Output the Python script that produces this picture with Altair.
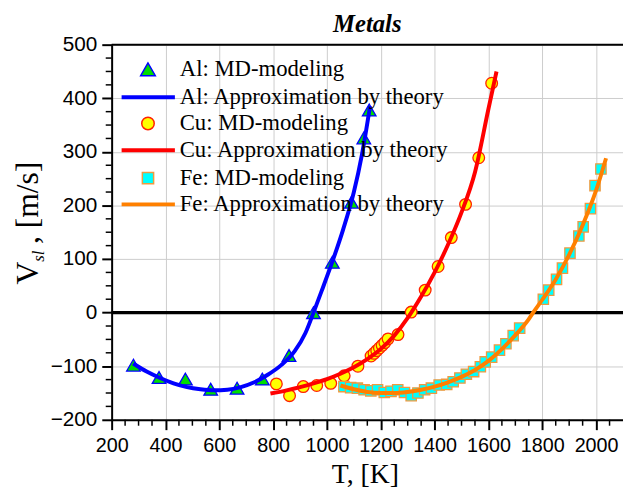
import altair as alt
import pandas as pd

# ---------------- data ----------------
al_T = [281, 376, 474, 568, 666, 760, 859, 950, 1020, 1091, 1137, 1157]
al_V = [-98, -121, -124, -143, -141, -124, -80, 0, 94, 206, 326, 378]

al_fit_T = [280, 330, 380, 430, 480, 530, 580, 630, 680, 730, 780, 830, 880, 920, 950, 980, 1020, 1060, 1100, 1130, 1160]
al_fit_V = [-95, -110, -122, -132, -139, -143, -145, -144, -139, -130, -116, -98, -72, -38, 0, 40, 95, 155, 225, 295, 385]

cu_T = [812, 861, 912, 962, 1014, 1064, 1115, 1164, 1175, 1185, 1195, 1205, 1215, 1227, 1264, 1313, 1365, 1413, 1462, 1515, 1564, 1612]
cu_V = [-133, -155, -138, -136, -132, -118, -100, -81, -76, -71, -66, -61, -56, -49, -41, 1, 42, 86, 140, 202, 289, 428]

cu_fit_T = [790, 850, 900, 950, 1000, 1050, 1100, 1150, 1200, 1250, 1300, 1350, 1400, 1450, 1500, 1550, 1600, 1615, 1630]
cu_fit_V = [-151, -145, -139, -132, -124, -114, -102, -87, -68, -43, -10, 30, 75, 127, 187, 262, 380, 415, 450]

fe_T = [1063, 1088, 1113, 1138, 1163, 1188, 1213, 1238, 1263, 1288, 1313, 1338, 1363, 1388, 1417, 1445,
        1469, 1494, 1518, 1545, 1570, 1588, 1612, 1641, 1665, 1692, 1716, 1804, 1824, 1853, 1875, 1903,
        1936, 1952, 1979, 1996, 2018]
fe_V = [-138, -140, -141, -144, -146, -144, -149, -147, -144, -149, -155, -150, -144, -141, -135, -134,
        -129, -122, -115, -110, -101, -92, -83, -70, -58, -43, -29, 25, 42, 62, 83, 111,
        143, 160, 194, 237, 268]

fe_fit_T = [1050, 1100, 1150, 1200, 1250, 1300, 1350, 1400, 1450, 1500, 1550, 1600, 1650, 1700, 1750, 1766, 1800, 1850, 1900, 1950, 2000, 2037]
fe_fit_V = [-136, -143, -148, -150, -150, -148, -144, -138, -130, -120, -107, -90, -68, -42, -12, 0, 24, 62, 108, 163, 228, 288]

x_ticks = list(range(200, 2001, 200))
y_ticks = list(range(-200, 501, 100))
x_minor = [t for t in range(250, 2100, 50) if t % 200 != 0]
y_minor = [t for t in range(-175, 500, 25) if t % 100 != 0]

legend_labels = ["Al: MD-modeling", "Al: Approximation by theory",
                 "Cu: MD-modeling", "Cu: Approximation by theory",
                 "Fe: MD-modeling", "Fe: Approximation by theory"]
legend_rows_v = [454, 402, 353, 303, 251, 202]

# ---------------- styling ----------------
W, H = 518, 380
SERIF = "Liberation Serif"
SANS = "Liberation Sans"

xs = alt.Scale(domain=[200, 2100], nice=False, zero=False)
ys = alt.Scale(domain=[-200, 500], nice=False, zero=False)

xaxis = alt.Axis(values=x_ticks, title=None, format="d", grid=True, gridColor="#cccccc", gridWidth=1,
                 tickSize=10, tickWidth=2, tickColor="black", domainColor="black", domainWidth=2,
                 labelFont=SANS, labelFontSize=20, labelColor="black", labelPadding=6,
                 labelOverlap=False, labelFlush=False)
yaxis = alt.Axis(values=y_ticks, title=None, format="d", grid=True, gridColor="#cccccc", gridWidth=1,
                 tickSize=10, tickWidth=2, tickColor="black", domainColor="black", domainWidth=2,
                 labelFont=SANS, labelFontSize=21, labelColor="black", labelPadding=5,
                 labelOverlap=False, labelFlush=False)


def X(f="k"):
    return alt.X(f"{f}:Q", scale=xs, axis=xaxis)


def Y(f="v"):
    return alt.Y(f"{f}:Q", scale=ys, axis=yaxis)


def df(T, V):
    return pd.DataFrame({"k": T, "v": V})


zero = alt.Chart(pd.DataFrame({"v": [0]})).mark_rule(color="black", strokeWidth=3.5).encode(y=Y())
top = alt.Chart(pd.DataFrame({"v": [500]})).mark_rule(color="black", strokeWidth=2).encode(y=Y())

xminor = alt.Chart(pd.DataFrame({"k": x_minor})).mark_rule(color="black", strokeWidth=1.5).encode(
    x=X(), y=alt.value(H), y2=alt.value(H + 6))
yminor = alt.Chart(pd.DataFrame({"v": y_minor})).mark_rule(color="black", strokeWidth=1.5).encode(
    y=Y(), x=alt.value(0), x2=alt.value(-6))


def pts(T, V, shape, fill, stroke, size):
    return alt.Chart(df(T, V)).mark_point(shape=shape, filled=True, fill=fill, stroke=stroke,
                                          strokeWidth=1.3, size=size, opacity=1).encode(x=X(), y=Y())


def line(T, V, color):
    return alt.Chart(df(T, V)).mark_line(color=color, strokeWidth=4, interpolate="monotone").encode(x=X(), y=Y())


al_p = pts(al_T, al_V, "triangle-up", "#00dd00", "#0000ff", 190)
al_l = line(al_fit_T, al_fit_V, "#0000ff")
cu_p = pts(cu_T, cu_V, "circle", "#ffff00", "#ff2000", 140)
cu_l = line(cu_fit_T, cu_fit_V, "#ff0000")
fe_p = pts(fe_T, fe_V, "square", "#00ffff", "#f09a40", 110)
fe_l = line(fe_fit_T, fe_fit_V, "#ff8000")

# ---------------- legend ----------------
leg_m = pd.DataFrame({
    "k": [335, 335, 335],
    "v": [legend_rows_v[0], legend_rows_v[2], legend_rows_v[4]],
    "shape": ["triangle-up", "circle", "square"],
    "fill": ["#00dd00", "#ffff00", "#00ffff"],
    "stroke": ["#0000ff", "#ff2000", "#f09a40"],
    "size": [220, 160, 130],
})
leg_markers = alt.Chart(leg_m).mark_point(filled=True, strokeWidth=1.5, opacity=1).encode(
    x=X(), y=Y(),
    shape=alt.Shape("shape:N", scale=None),
    fill=alt.Fill("fill:N", scale=None),
    stroke=alt.Stroke("stroke:N", scale=None),
    size=alt.Size("size:Q", scale=None),
)
leg_l = pd.DataFrame({
    "k": [237, 237, 237], "k2": [435, 435, 435],
    "v": [legend_rows_v[1], legend_rows_v[3], legend_rows_v[5]],
    "color": ["#0000ff", "#ff0000", "#ff8000"],
})
leg_lines = alt.Chart(leg_l).mark_rule(strokeWidth=4).encode(
    x=X(), x2=alt.X2("k2"), y=Y(), color=alt.Color("color:N", scale=None))
leg_t = pd.DataFrame({"k": [453] * 6, "v": legend_rows_v, "label": legend_labels})
leg_text = alt.Chart(leg_t).mark_text(align="left", baseline="middle", font=SERIF, fontSize=23,
                                      color="black").encode(x=X(), y=Y(), text="label:N")

# ---------------- titles ----------------
def txt(s, x, y, **kw):
    return alt.Chart(pd.DataFrame({"t": [s]})).mark_text(**kw).encode(
        text="t:N", x=alt.value(x), y=alt.value(y))


title = txt("Metals", W / 2, -13, font=SERIF, fontSize=25, fontStyle="italic", fontWeight="bold",
            align="center", baseline="alphabetic", color="black")
xtitle = txt("T, [K]", 257, 444, font=SERIF, fontSize=28, align="center", baseline="alphabetic", color="black")
yt1 = txt("V", -75, 243, font=SERIF, fontSize=32, angle=270, align="left", baseline="alphabetic", color="black")
yt2 = txt("sl", -69, 220, font=SERIF, fontSize=17, fontStyle="italic", angle=270, align="left",
          baseline="alphabetic", color="black")
yt3 = txt(",\u00a0[m/s]", -75, 202, font=SERIF, fontSize=32, angle=270, align="left", baseline="alphabetic",
          color="black")

chart = alt.layer(
    zero, top, xminor, yminor,
    al_p, al_l, cu_p, cu_l, fe_p, fe_l,
    leg_lines, leg_markers, leg_text,
    title, xtitle, yt1, yt2, yt3,
).properties(
    width=W, height=H,
    autosize=alt.AutoSizeParams(type="none"),
    padding={"left": 105, "top": 34, "right": 0, "bottom": 70},
).configure_view(stroke=None).configure(background="white")

chart.save("out.html", embed_options={"renderer": "svg", "actions": False})
